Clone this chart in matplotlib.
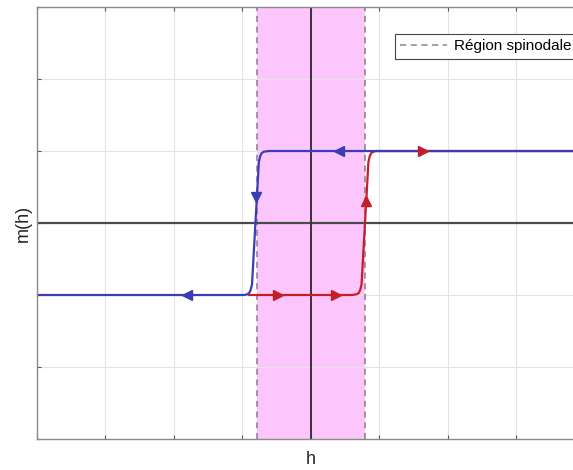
import numpy as np
import matplotlib
matplotlib.use("Agg")
import matplotlib.pyplot as plt

plt.rcParams['font.family'] = ['Liberation Sans', 'DejaVu Sans']

# -------------------------------
# Data
# -------------------------------

# spinodal field
h_spinodal = 0.79

# upward sweep (red), m = -1 -> +1
h_up = [-0.90, 0.60, 0.67, 0.70, 0.72, 0.74, 0.79, 0.84, 0.86, 0.88, 0.91, 0.95, 4.00]
m_up = [-1.00, -1.00, -0.99, -0.97, -0.93, -0.85, 0.00, 0.85, 0.93, 0.97, 0.99, 1.00, 1.00]

# downward sweep (blue), m = +1 -> -1
h_down = [4.00, -0.62, -0.69, -0.72, -0.74, -0.76, -0.81, -0.86, -0.88, -0.90, -0.93, -0.97, -4.00]
m_down = [1.00, 1.00, 0.99, 0.97, 0.93, 0.85, 0.00, -0.85, -0.93, -0.97, -0.99, -1.00, -1.00]

# direction arrows
arrow_up_h = [-0.48, 0.37, 0.80, 1.64]
arrow_up_m = [-1.0, -1.0, 0.30, 1.0]
arrow_up_dir = ['>', '>', '^', '>']

arrow_down_h = [0.41, -0.80, -1.81]
arrow_down_m = [1.0, 0.36, -1.0]
arrow_down_dir = ['<', 'v', '<']

xticks = [-4, -3, -2, -1, 0, 1, 2, 3, 4]
yticks = [-3, -2, -1, 0, 1, 2, 3]

blue = '#3c3cb4'
red = '#c41e2a'
pink = '#fcc6fc'

# -------------------------------
# Figure
# -------------------------------

fig = plt.figure(figsize=(5.73, 4.70), dpi=100)
# the axes runs a bit past the right edge (picture is cropped)
ax = fig.add_axes([0.0646, 0.066, 0.956, 0.919])

ax.set_xlim(-4, 4)
ax.set_ylim(-3, 3)

# spinodal region
ax.axvspan(-h_spinodal, h_spinodal, color=pink, zorder=0.5, lw=0)
ax.axvline(-h_spinodal, color='#8a7a8a', ls=(0, (4, 3)), lw=1.1, zorder=1,
           label='Région spinodale')
ax.axvline(h_spinodal, color='#8a7a8a', ls=(0, (4, 3)), lw=1.1, zorder=1)

# axes through origin
ax.axhline(0, color='#4a4a4a', lw=1.6, zorder=1.5)
ax.axvline(0, color='#3a303a', lw=1.4, zorder=1.5)

# hysteresis branches
ax.plot(h_up, m_up, color=red, lw=1.6, zorder=2)
ax.plot(h_down, m_down, color=blue, lw=1.6, zorder=2.5)

for h, m, d in zip(arrow_up_h, arrow_up_m, arrow_up_dir):
    ax.plot(h, m, marker=d, color=red, ms=7, mec=red, zorder=3)
for h, m, d in zip(arrow_down_h, arrow_down_m, arrow_down_dir):
    ax.plot(h, m, marker=d, color=blue, ms=7, mec=blue, zorder=3)

# grid / ticks
ax.set_xticks(xticks)
ax.set_yticks(yticks)
ax.set_xticklabels([])
ax.set_yticklabels([])
ax.grid(True, color='#e3e3e3', lw=0.8, zorder=0)
ax.set_axisbelow(True)
ax.tick_params(direction='in', length=3, width=0.8, color='#555555',
               top=True, right=True)
for s in ax.spines.values():
    s.set_color('#8a8a8a')
    s.set_linewidth(1.0)

ax.set_xlabel('h', fontsize=13, color='#262626', labelpad=5)
ax.set_ylabel('m(h)', fontsize=13, color='#262626', labelpad=0.5)

leg = ax.legend(loc='upper left', bbox_to_anchor=(0.653, 0.9375),
                fontsize=11, frameon=True, fancybox=False,
                handlelength=3.1, handletextpad=0.45, borderpad=0.35,
                borderaxespad=0)
leg.get_frame().set_edgecolor('#444444')
leg.get_frame().set_linewidth(0.8)
leg.get_frame().set_alpha(1)
leg.get_lines()[0].set_color('#888888')

fig.savefig('out.png', dpi=100)
